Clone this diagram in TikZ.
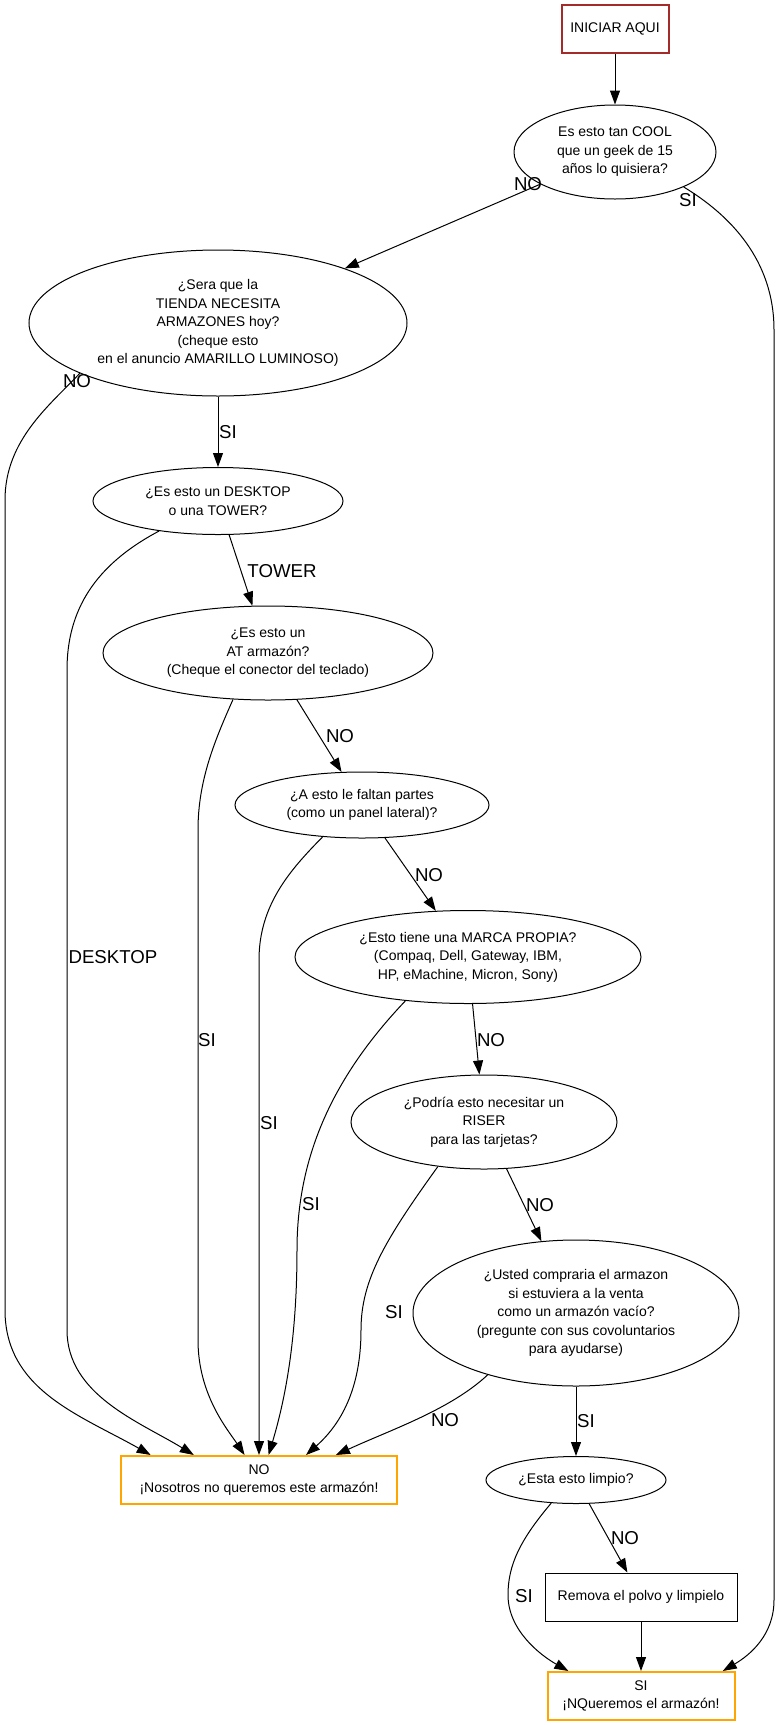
\documentclass[tikz,border=0pt]{standalone}
\usepackage{fontspec}
\setmainfont{Liberation Sans}
\usetikzlibrary{arrows.meta,shapes.geometric}

\definecolor{startred}{HTML}{A52A2A}
\definecolor{endorange}{HTML}{FFA500}

\begin{document}
\begin{tikzpicture}[x=0.75pt,y=-0.75pt,->,>={Triangle[length=10.5pt,width=7.5pt]},line width=0.75pt,
                    ask node/.style={ellipse,draw,inner sep=0pt,align=center,font=\fontsize{10.5}{13.9}\selectfont},
                    box node/.style={rectangle,draw,inner sep=2pt,align=center,minimum height=36pt,font=\fontsize{10.5}{13.9}\selectfont},
                    start node/.style={box node,draw=startred,line width=1.5pt},
                    end node/.style={box node,draw=endorange,line width=1.5pt},
                    edge label/.style={inner sep=0pt,font=\fontsize{14}{16}\selectfont}]

  \useasboundingbox (0,0) rectangle (780,1725);

  \node[start node,minimum width=80.25pt] (1) at (615,29) {INICIAR AQUI};
  \node[ask node,minimum width=151.5pt,minimum height=70.5pt] (2) at (615,152) {Es esto tan COOL\\que un geek de 15\\años lo quisiera?};
  \node[ask node,minimum width=283.5pt,minimum height=109.5pt] (3) at (218,323) {¿Sera que la\\TIENDA NECESITA\\ARMAZONES hoy?\\(cheque esto\\en el anuncio AMARILLO LUMINOSO)};
  \node[ask node,minimum width=187.5pt,minimum height=50.25pt] (4) at (218,501) {¿Es esto un DESKTOP\\o una TOWER?};
  \node[ask node,minimum width=247.5pt,minimum height=70.5pt] (5) at (268,653) {¿Es esto un\\AT armazón?\\(Cheque el conector del teclado)};
  \node[ask node,minimum width=190.5pt,minimum height=49.5pt] (6) at (362,805) {¿A esto le faltan partes\\(como un panel lateral)?};
  \node[ask node,minimum width=259.5pt,minimum height=69.75pt] (7) at (468,957) {¿Esto tiene una MARCA PROPIA?\\(Compaq, Dell, Gateway, IBM,\\HP, eMachine, Micron, Sony)};
  \node[ask node,minimum width=199.5pt,minimum height=70.5pt] (8) at (484,1122) {¿Podría esto necesitar un\\RISER\\para las tarjetas?};
  \node[ask node,minimum width=244.5pt,minimum height=109.5pt] (9) at (576,1313) {¿Usted compraria el armazon\\si estuviera a la venta\\como un armazón vacío?\\(pregunte con sus covoluntarios\\para ayudarse)};
  \node[end node,minimum width=207pt] (10) at (259,1480) {NO\\¡Nosotros no queremos este armazón!};
  \node[ask node,minimum width=135pt,minimum height=35.25pt] (11) at (576,1480) {¿Esta esto limpio?};
  \node[box node,minimum width=144pt] (12) at (641,1597) {Remova el polvo y limpielo};
  \node[end node,minimum width=140.25pt] (13) at (641,1696) {SI\\¡NQueremos el armazón!};

  \draw (1) -- (2);
  \draw (2) -- (3) node[edge label] at (528,184) {NO};
  \draw (2.-27) .. controls (730,215) and (774,260) .. (774,330) -- (774,1600)
        .. controls (774,1635) and (750,1655) .. (13.17) node[edge label] at (688,200) {SI};
  \draw (3.200) .. controls (50,405) and (5,440) .. (5,500) -- (5,1310)
        .. controls (5,1390) and (80,1415) .. (10.167) node[edge label] at (77,381) {NO};
  \draw (3) -- (4) node[edge label] at (228,432) {SI};
  \draw (4) -- (5) node[edge label] at (282,571) {TOWER};
  \draw (4.207) .. controls (95,565) and (67,610) .. (67,670) -- (67,1330)
        .. controls (67,1395) and (140,1422) .. (10.159) node[edge label] at (113,957) {DESKTOP};
  \draw (5) -- (6) node[edge label] at (340,736) {NO};
  \draw (5.233) .. controls (215,740) and (198,780) .. (198,830) -- (198,1340)
        .. controls (198,1395) and (228,1430) .. (10.120) node[edge label] at (207,1040) {SI};
  \draw (6) -- (7) node[edge label] at (429,875) {NO};
  \draw (6.219) .. controls (290,870) and (259,905) .. (259,960) -- (10) node[edge label] at (269,1123) {SI};
  \draw (7) -- (8) node[edge label] at (491,1040) {NO};
  \draw (7.215) .. controls (330,1080) and (297,1160) .. (297,1250)
        .. controls (297,1340) and (285,1400) .. (10.69) node[edge label] at (311,1204) {SI};
  \draw (8) -- (9) node[edge label] at (540,1205) {NO};
  \draw (8.224) .. controls (385,1240) and (361,1280) .. (361,1330)
        .. controls (361,1390) and (340,1425) .. (10.28) node[edge label] at (394,1312) {SI};
  \draw (9.215) .. controls (450,1410) and (390,1430) .. (10.18) node[edge label] at (445,1420) {NO};
  \draw (9) -- (11) node[edge label] at (586,1421) {SI};
  \draw (11) -- (12) node[edge label] at (625,1538) {NO};
  \draw (11.223) .. controls (520,1540) and (508,1565) .. (508,1595)
        .. controls (508,1630) and (540,1655) .. (13.161) node[edge label] at (524,1596) {SI};
  \draw (12) -- (13);
\end{tikzpicture}
\end{document}
